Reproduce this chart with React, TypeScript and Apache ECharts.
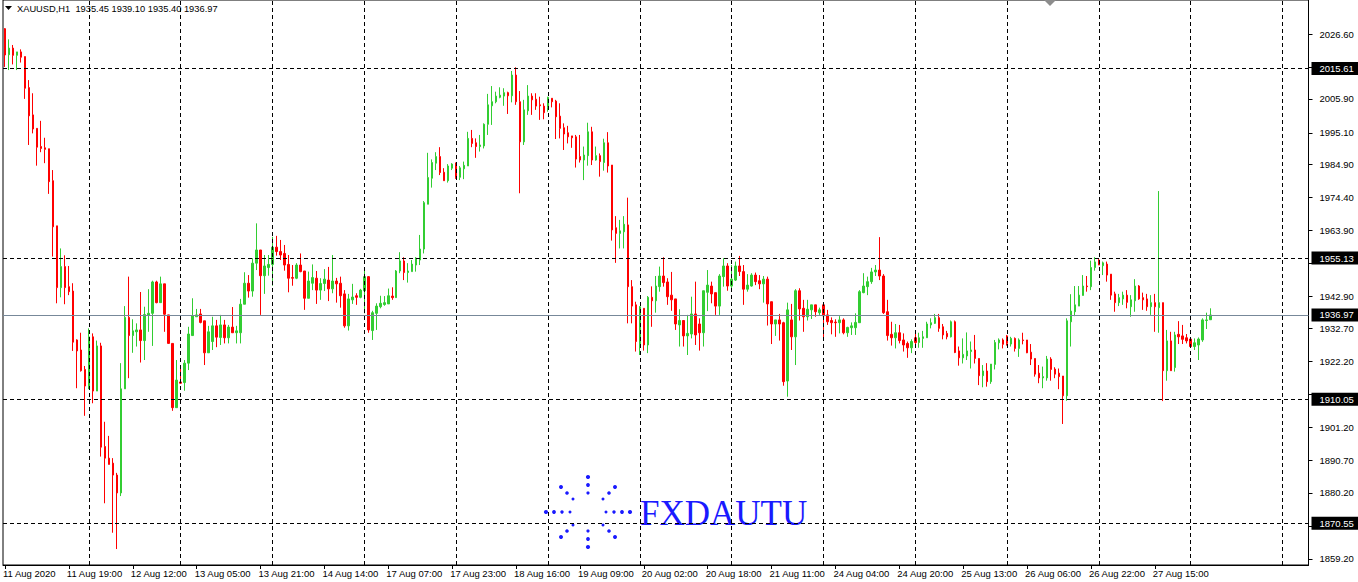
import React, { useEffect, useRef } from "react";
import * as echarts from "echarts";

// Hourly XAUUSD bars, each row: [open, close, low, high]
const aug11 = [
  [2028.3, 2019.9, 2016.1, 2028.5], [2020.0, 2022.1, 2015.1, 2024.9], [2022.1, 2019.8, 2016.9, 2023.1],
  [2019.8, 2020.9, 2015.1, 2020.9], [2020.9, 2019.2, 2017.5, 2021.7], [2019.4, 2009.3, 2005.9, 2019.4],
  [2009.5, 2000.5, 1991.2, 2011.9], [2000.8, 1996.3, 1994.9, 2007.7], [1996.5, 1990.5, 1984.6, 1996.5],
  [1990.7, 1990.1, 1988.9, 1998.9], [1990.3, 1989.8, 1985.4, 1993.5], [1990.0, 1979.5, 1975.6, 1990.0],
  [1979.8, 1965.1, 1955.6, 1983.2], [1965.4, 1945.7, 1940.7, 1965.4], [1945.7, 1952.4, 1942.6, 1958.2],
  [1952.4, 1945.7, 1940.4, 1956.0], [1946.0, 1944.4, 1943.3, 1952.6], [1944.6, 1928.3, 1925.5, 1947.1],
  [1929.0, 1925.5, 1913.6, 1929.2], [1925.8, 1919.2, 1918.9, 1931.3], [1919.6, 1914.3, 1904.8, 1920.7],
];
const aug12 = [
  [1914.1, 1930.0, 1913.3, 1932.7], [1930.0, 1912.7, 1908.8, 1931.1], [1912.7, 1927.1, 1912.7, 1928.8],
  [1927.1, 1894.8, 1891.8, 1928.1], [1895.0, 1891.3, 1876.9, 1902.9], [1891.3, 1889.3, 1889.3, 1898.4],
  [1889.7, 1885.9, 1867.5, 1891.3], [1885.9, 1880.2, 1862.3, 1886.6], [1880.2, 1913.4, 1879.2, 1921.6],
  [1913.4, 1936.2, 1913.4, 1939.8], [1936.2, 1930.4, 1916.8, 1949.2], [1930.4, 1931.9, 1924.9, 1935.6],
  [1931.6, 1932.2, 1926.9, 1934.3], [1932.2, 1928.8, 1921.8, 1944.3], [1928.8, 1937.1, 1922.6, 1939.6],
  [1937.0, 1937.5, 1931.6, 1945.2], [1937.5, 1947.5, 1927.1, 1947.9], [1947.5, 1940.9, 1940.7, 1947.9],
  [1940.9, 1946.9, 1940.9, 1949.2], [1946.9, 1937.2, 1931.6, 1946.9], [1937.0, 1927.9, 1927.9, 1937.0],
  [1927.9, 1907.4, 1906.4, 1927.9], [1907.4, 1916.2, 1907.4, 1922.6],
];
const aug13 = [
  [1915.6, 1915.2, 1915.0, 1920.7], [1915.4, 1921.6, 1912.8, 1922.6], [1921.6, 1930.9, 1919.4, 1933.2],
  [1930.4, 1936.7, 1930.4, 1942.3], [1936.4, 1937.0, 1936.4, 1938.9], [1937.3, 1934.6, 1934.3, 1938.9],
  [1935.1, 1924.9, 1921.0, 1935.1], [1924.9, 1931.6, 1924.9, 1933.5], [1928.5, 1933.5, 1925.8, 1936.4],
  [1933.5, 1929.9, 1926.7, 1935.4], [1929.8, 1933.8, 1927.4, 1937.0], [1933.8, 1929.7, 1927.9, 1935.4],
  [1929.7, 1933.1, 1927.9, 1933.8], [1933.1, 1931.3, 1931.3, 1939.5], [1931.3, 1931.9, 1927.9, 1933.5],
  [1931.3, 1940.4, 1927.9, 1942.1], [1940.4, 1947.1, 1940.4, 1950.6], [1947.1, 1944.6, 1942.5, 1949.7],
  [1944.6, 1953.5, 1942.8, 1955.1], [1953.5, 1957.7, 1951.3, 1966.2], [1957.7, 1949.5, 1937.0, 1957.7],
  [1949.5, 1952.6, 1943.7, 1956.1], [1952.1, 1953.1, 1949.5, 1956.1],
];
const aug14 = [
  [1953.1, 1958.6, 1946.3, 1961.9], [1958.6, 1957.2, 1955.9, 1962.2], [1957.2, 1956.1, 1954.5, 1960.9],
  [1956.6, 1952.9, 1951.1, 1959.3], [1953.1, 1948.7, 1944.2, 1956.1], [1948.9, 1948.7, 1946.3, 1952.9],
  [1948.7, 1952.9, 1948.4, 1953.5], [1952.9, 1950.8, 1950.6, 1956.6], [1951.0, 1942.3, 1938.6, 1951.0],
  [1942.3, 1947.8, 1942.3, 1950.8], [1947.1, 1948.9, 1944.9, 1953.1], [1948.7, 1944.9, 1940.5, 1951.0],
  [1944.9, 1947.0, 1941.8, 1948.7], [1947.0, 1948.4, 1944.6, 1951.6], [1948.1, 1945.3, 1941.4, 1952.3],
  [1945.3, 1947.8, 1943.9, 1956.1], [1947.8, 1946.9, 1940.9, 1948.8], [1947.1, 1943.1, 1939.3, 1949.2],
  [1943.7, 1933.5, 1932.9, 1944.9], [1933.5, 1942.1, 1932.0, 1943.7], [1941.8, 1942.7, 1940.5, 1946.9],
  [1943.1, 1942.6, 1940.2, 1943.9], [1942.6, 1944.9, 1942.3, 1945.3],
];
const aug17 = [
  [1944.7, 1949.2, 1937.5, 1951.3], [1949.2, 1932.2, 1931.3, 1949.4], [1932.0, 1937.7, 1929.0, 1938.3],
  [1937.5, 1939.8, 1932.2, 1940.7], [1939.6, 1940.7, 1939.1, 1943.1], [1940.3, 1940.9, 1939.9, 1943.0],
  [1940.5, 1943.1, 1940.5, 1945.4], [1943.0, 1942.5, 1941.8, 1945.8], [1942.5, 1951.0, 1942.5, 1951.3],
  [1951.0, 1954.2, 1950.3, 1957.0], [1954.2, 1950.5, 1948.1, 1955.4], [1950.5, 1951.0, 1947.3, 1953.5],
  [1950.8, 1953.2, 1950.8, 1954.5], [1952.9, 1955.1, 1950.8, 1955.4], [1954.5, 1958.0, 1952.9, 1962.5],
  [1958.0, 1972.8, 1956.6, 1973.3], [1972.3, 1980.8, 1972.3, 1988.7], [1980.6, 1985.6, 1977.6, 1986.6],
  [1985.4, 1987.5, 1983.2, 1988.9], [1987.5, 1982.4, 1981.6, 1990.5], [1982.5, 1979.8, 1979.8, 1983.8],
  [1979.8, 1984.5, 1979.2, 1985.1], [1983.8, 1985.1, 1983.2, 1985.4],
];
const aug18 = [
  [1985.1, 1980.9, 1980.4, 1985.6], [1980.9, 1983.9, 1980.0, 1984.5], [1983.6, 1984.7, 1980.3, 1985.9],
  [1984.5, 1993.3, 1984.5, 1995.4], [1993.3, 1991.7, 1990.5, 1996.0], [1991.9, 1990.7, 1987.1, 1993.3],
  [1990.7, 1991.2, 1989.1, 1994.4], [1990.9, 1997.8, 1990.1, 1998.1], [1997.8, 2004.0, 1994.4, 2007.5],
  [2003.7, 2005.0, 1997.6, 2010.0], [2005.0, 2006.8, 2004.5, 2008.2], [2006.4, 2007.1, 2006.1, 2009.6],
  [2006.8, 2007.9, 2003.7, 2009.3], [2007.9, 2006.9, 2001.1, 2008.2], [2006.9, 2013.5, 2004.8, 2014.8],
  [2013.5, 2005.0, 2004.0, 2016.0], [2005.0, 1992.2, 1975.8, 2008.4], [1992.2, 2002.4, 1991.2, 2005.6],
  [2002.1, 2006.8, 2000.8, 2010.3], [2006.8, 2005.6, 2000.8, 2007.7], [2005.8, 2003.6, 2002.4, 2007.7],
  [2004.0, 2003.7, 1999.2, 2006.6], [2003.6, 2001.5, 1999.4, 2004.5],
];
const aug19 = [
  [2003.2, 2006.4, 2001.8, 2006.6], [2006.1, 2005.0, 2003.2, 2006.1], [2005.2, 2000.2, 1993.1, 2005.6],
  [2000.4, 1996.5, 1993.3, 2004.5], [1996.7, 1994.7, 1989.6, 1998.1], [1995.1, 1993.8, 1991.7, 1997.3],
  [1994.1, 1993.5, 1990.3, 1994.1], [1993.8, 1986.7, 1984.0, 1994.4], [1987.5, 1986.4, 1985.6, 1994.4],
  [1986.4, 1988.0, 1980.0, 1990.7], [1987.8, 1995.4, 1984.6, 1998.3], [1995.4, 1986.4, 1984.8, 1997.0],
  [1986.4, 1987.8, 1986.2, 1990.7], [1987.8, 1985.9, 1981.1, 1988.5], [1985.6, 1991.9, 1983.0, 1993.2],
  [1991.9, 1984.5, 1982.4, 1995.3], [1984.8, 1964.1, 1960.7, 1984.8], [1964.8, 1963.0, 1953.6, 1968.5],
  [1963.0, 1963.8, 1958.2, 1967.3], [1963.5, 1965.9, 1958.2, 1968.5], [1965.7, 1946.0, 1934.3, 1974.4],
  [1946.0, 1939.8, 1934.3, 1948.1], [1940.2, 1928.5, 1925.3, 1941.2],
];
const aug20 = [
  [1927.7, 1939.6, 1924.2, 1939.8], [1939.1, 1927.4, 1925.6, 1939.1], [1927.4, 1942.6, 1924.8, 1943.0],
  [1942.6, 1941.5, 1933.2, 1946.1], [1941.5, 1946.2, 1937.7, 1949.4], [1946.0, 1949.4, 1944.4, 1952.4],
  [1949.4, 1947.3, 1946.0, 1955.4], [1947.5, 1942.8, 1940.2, 1948.7], [1943.3, 1941.8, 1938.3, 1950.7],
  [1942.1, 1934.1, 1932.2, 1942.1], [1933.8, 1935.2, 1926.9, 1938.8], [1935.2, 1930.3, 1926.9, 1935.2],
  [1930.3, 1931.1, 1924.2, 1937.0], [1930.9, 1937.3, 1929.5, 1942.8], [1937.3, 1930.6, 1927.4, 1947.6],
  [1934.1, 1931.3, 1925.6, 1935.9], [1931.3, 1944.7, 1926.9, 1944.7], [1944.2, 1946.5, 1938.2, 1951.3],
  [1946.2, 1943.7, 1940.7, 1947.6], [1944.1, 1939.8, 1937.0, 1944.1], [1939.8, 1949.4, 1937.0, 1950.0],
  [1949.2, 1952.6, 1946.0, 1955.1], [1952.6, 1946.2, 1944.7, 1953.5],
];
const aug21 = [
  [1946.2, 1948.4, 1944.9, 1952.9], [1948.1, 1952.6, 1947.8, 1954.0], [1952.6, 1950.8, 1949.4, 1955.8],
  [1950.8, 1945.2, 1940.2, 1952.9], [1945.2, 1946.5, 1944.4, 1950.0], [1946.2, 1949.7, 1946.0, 1950.3],
  [1949.7, 1947.6, 1946.5, 1950.5], [1947.9, 1946.9, 1945.2, 1949.7], [1946.9, 1948.4, 1940.9, 1949.4],
  [1948.4, 1940.5, 1933.6, 1949.2], [1941.2, 1934.1, 1927.7, 1941.2], [1934.1, 1935.4, 1930.3, 1935.4],
  [1935.4, 1934.1, 1928.8, 1937.3], [1934.5, 1915.7, 1914.4, 1934.8], [1915.9, 1938.6, 1910.9, 1940.9],
  [1935.4, 1930.0, 1925.8, 1940.5], [1930.0, 1944.7, 1921.0, 1945.2], [1944.7, 1938.9, 1935.2, 1945.5],
  [1939.1, 1936.4, 1931.6, 1941.8], [1936.4, 1938.8, 1935.2, 1941.8], [1938.6, 1940.2, 1935.7, 1940.2],
  [1940.2, 1938.0, 1936.4, 1940.2], [1937.7, 1938.6, 1937.0, 1939.3],
];
const aug24 = [
  [1940.2, 1936.7, 1929.2, 1940.2], [1937.0, 1934.8, 1933.8, 1938.6], [1935.2, 1934.5, 1930.8, 1936.2],
  [1934.7, 1934.5, 1930.0, 1935.6], [1934.5, 1935.4, 1931.1, 1936.6], [1935.4, 1931.3, 1930.8, 1935.9],
  [1931.3, 1933.0, 1930.0, 1933.2], [1932.9, 1933.5, 1930.6, 1934.6], [1932.9, 1934.6, 1930.6, 1937.5],
  [1934.5, 1944.4, 1934.5, 1944.9], [1944.1, 1946.2, 1943.9, 1950.3], [1946.0, 1947.6, 1943.3, 1949.2],
  [1947.6, 1950.7, 1946.9, 1952.0], [1950.7, 1951.3, 1949.4, 1952.9], [1951.3, 1949.4, 1948.1, 1961.8],
  [1949.4, 1937.7, 1937.3, 1950.0], [1938.0, 1930.4, 1928.8, 1941.8], [1930.8, 1929.7, 1927.2, 1934.8],
  [1929.7, 1931.3, 1926.3, 1934.1], [1931.3, 1928.8, 1927.9, 1933.8], [1929.0, 1927.4, 1925.3, 1931.1],
  [1927.9, 1926.5, 1923.3, 1928.5], [1926.5, 1928.5, 1924.8, 1929.2],
];
const aug25 = [
  [1929.7, 1928.2, 1927.4, 1930.9], [1928.2, 1929.7, 1926.5, 1931.3], [1929.5, 1930.0, 1926.5, 1931.9],
  [1929.7, 1934.1, 1929.7, 1934.8], [1933.8, 1934.5, 1932.7, 1935.9], [1934.3, 1936.1, 1934.1, 1937.3],
  [1936.1, 1932.7, 1931.6, 1937.3], [1933.2, 1930.6, 1929.2, 1934.1], [1931.1, 1930.0, 1929.2, 1931.9],
  [1930.0, 1934.8, 1929.8, 1935.2], [1934.8, 1925.0, 1924.8, 1935.2], [1925.5, 1923.3, 1920.8, 1926.9],
  [1923.3, 1924.4, 1921.5, 1929.5], [1923.9, 1925.5, 1922.6, 1931.4], [1925.3, 1925.8, 1919.9, 1928.5],
  [1925.8, 1923.1, 1921.5, 1930.6], [1923.1, 1917.6, 1914.6, 1923.1], [1917.6, 1919.1, 1913.9, 1921.0],
  [1919.1, 1915.7, 1914.1, 1921.6], [1915.7, 1921.3, 1915.0, 1921.3], [1921.2, 1928.2, 1919.6, 1929.0],
  [1928.1, 1929.0, 1926.0, 1929.5], [1929.0, 1927.6, 1926.3, 1929.5],
];
const aug26 = [
  [1930.3, 1927.9, 1927.2, 1930.6], [1927.7, 1929.5, 1926.9, 1930.0], [1929.5, 1926.3, 1925.3, 1929.8],
  [1926.3, 1929.0, 1923.6, 1929.5], [1929.0, 1928.8, 1927.6, 1931.3], [1929.0, 1924.9, 1924.8, 1929.0],
  [1925.1, 1922.9, 1921.0, 1927.7], [1923.1, 1918.1, 1917.3, 1923.1], [1918.4, 1916.9, 1915.2, 1921.0],
  [1916.9, 1917.3, 1913.6, 1920.5], [1916.9, 1922.9, 1916.0, 1923.9], [1922.9, 1919.6, 1916.0, 1923.5],
  [1919.7, 1918.1, 1916.8, 1920.3], [1918.4, 1917.3, 1913.3, 1919.9], [1917.5, 1911.2, 1902.2, 1917.5],
  [1911.2, 1935.1, 1909.6, 1935.9], [1934.8, 1938.2, 1926.9, 1943.6], [1938.0, 1940.2, 1936.6, 1946.2],
  [1939.8, 1943.3, 1939.8, 1946.2], [1943.2, 1946.2, 1943.2, 1949.7], [1946.2, 1946.0, 1944.4, 1949.4],
  [1946.0, 1952.1, 1944.9, 1954.3], [1952.1, 1953.9, 1951.1, 1955.4],
];
const aug27 = [
  [1954.5, 1952.9, 1952.9, 1954.8], [1952.7, 1953.6, 1949.7, 1954.0], [1953.2, 1949.7, 1947.6, 1954.0],
  [1950.0, 1943.3, 1941.8, 1950.0], [1943.7, 1940.9, 1938.0, 1944.4], [1940.9, 1942.5, 1939.8, 1943.7],
  [1942.1, 1943.3, 1940.2, 1944.4], [1943.3, 1941.0, 1939.1, 1944.9], [1939.6, 1941.8, 1936.4, 1943.3],
  [1941.5, 1946.2, 1938.0, 1948.4], [1946.2, 1942.1, 1941.8, 1946.5], [1942.5, 1941.8, 1938.6, 1944.1],
  [1942.1, 1939.6, 1938.3, 1943.7], [1939.6, 1940.9, 1937.0, 1943.3], [1940.9, 1939.6, 1931.6, 1943.7],
  [1939.3, 1940.9, 1931.3, 1976.5], [1940.9, 1919.2, 1909.5, 1940.9], [1919.2, 1928.7, 1916.0, 1932.2],
  [1928.7, 1919.2, 1919.2, 1931.6], [1920.2, 1930.6, 1918.9, 1931.6], [1930.8, 1930.0, 1927.7, 1935.0],
  [1930.3, 1929.2, 1927.7, 1933.8], [1929.7, 1928.7, 1927.9, 1930.9],
];
const aug28 = [
  [1929.3, 1926.9, 1926.9, 1929.3], [1926.9, 1928.1, 1925.8, 1929.5], [1927.4, 1929.3, 1922.6, 1929.8],
  [1929.0, 1935.4, 1928.4, 1935.9], [1935.2, 1935.4, 1932.5, 1937.7], [1935.45, 1936.97, 1935.4, 1939.1],
];

// Trading days shown (first session starts at 03:00, the others at 01:00); the last one is the empty shift area
const tradingDays = ["11 Aug", "12 Aug", "13 Aug", "14 Aug", "17 Aug", "18 Aug", "19 Aug", "20 Aug", "21 Aug",
  "24 Aug", "25 Aug", "26 Aug", "27 Aug", "28 Aug", "31 Aug"];
const timeLabels = ["11 Aug 2020", "11 Aug 19:00", "12 Aug 12:00", "13 Aug 05:00", "13 Aug 21:00", "14 Aug 14:00",
  "17 Aug 07:00", "17 Aug 23:00", "18 Aug 16:00", "19 Aug 09:00", "20 Aug 02:00", "20 Aug 18:00", "21 Aug 11:00",
  "24 Aug 04:00", "24 Aug 20:00", "25 Aug 13:00", "26 Aug 06:00", "26 Aug 22:00", "27 Aug 15:00"];
const priceTicks = [2026.6, 2016.1, 2005.9, 1995.1, 1984.9, 1974.4, 1963.9, 1953.4, 1942.9, 1932.7, 1922.2, 1911.7,
  1901.2, 1890.7, 1880.2, 1869.7, 1859.2];
const priceLabels = [2026.6, 2005.9, 1995.1, 1984.9, 1974.4, 1963.9, 1942.9, 1932.7, 1922.2,
  1901.2, 1890.7, 1880.2, 1859.2];
const levels = [2015.61, 1955.13, 1910.05, 1870.55];
const bid = 1936.97;
const header = "XAUUSD,H1  1935.45 1939.10 1935.40 1936.97";

const SLOTS = 327;
const FONT = "Liberation Sans";

export default function App() {
  const ref = useRef<HTMLDivElement>(null);
  useEffect(() => {
    if (!ref.current) return;
    const chart = echarts.init(ref.current, null, { renderer: "svg" });

    const categories: string[] = [];
    tradingDays.forEach((d, k) => {
      for (let h = k === 0 ? 3 : 1; h <= 23; h++) {
        if (categories.length < SLOTS) categories.push(`${d} ${String(h).padStart(2, "0")}:00`);
      }
    });
    const bars = [...aug11, ...aug12, ...aug13, ...aug14, ...aug17, ...aug18, ...aug19, ...aug20, ...aug21,
      ...aug24, ...aug25, ...aug26, ...aug27, ...aug28];
    const separators = categories.filter((c) => c.endsWith(" 01:00"));
    const lastLabel = (timeLabels.length - 1) * 16;
    const showTick = (i: number) => i % 16 === 0 && i <= lastLabel;

    const boxLabel = (v: number) => ({
      show: true,
      position: "end",
      distance: 3,
      formatter: v.toFixed(2),
      backgroundColor: "#000",
      color: "#fff",
      fontFamily: FONT,
      fontSize: 9.5,
      padding: [2, 5, 1, 8],
    });

    // starburst logo dots (x, y, r)
    const dots = [
      [588, 477, 2.1], [588, 485, 1.9], [588, 493, 1.6],
      [588, 531, 1.6], [588, 539, 1.9], [588, 547, 2.1],
      [546, 512, 2.1], [554, 512, 1.9], [562, 512, 1.7], [570, 512, 1.5],
      [606, 512, 1.5], [614, 512, 1.7], [622, 512, 1.9], [630, 512, 2.1],
      [561, 487, 2.0], [567, 493, 1.8], [573, 499, 1.5],
      [615, 487, 2.0], [609, 493, 1.8], [603, 499, 1.5],
      [561, 537, 2.0], [567, 531, 1.8], [573, 525, 1.5],
      [615, 537, 2.0], [609, 531, 1.8], [603, 525, 1.5],
    ];

    chart.setOption({
      animation: false,
      backgroundColor: "#fff",
      grid: { left: 0.5, top: 0, width: 1308, height: 565, show: true, borderColor: "#000", borderWidth: 1, backgroundColor: "#fff" },
      xAxis: {
        type: "category",
        data: categories,
        boundaryGap: true,
        axisLine: { show: true, lineStyle: { color: "#000", width: 1 } },
        axisTick: { show: true, interval: (i: number) => showTick(i), alignWithLabel: true, length: 4, lineStyle: { color: "#000" } },
        axisLabel: {
          interval: (i: number) => showTick(i),
          formatter: (_v: string, i: number) => timeLabels[i / 16] ?? "",
          align: "left",
          color: "#000",
          fontFamily: FONT,
          fontSize: 9.5,
          margin: 3,
          padding: [0, 0, 0, -2],
          hideOverlap: false,
        },
        splitLine: { show: false },
      },
      yAxis: {
        type: "value",
        position: "right",
        min: 1857.21,
        max: 2037.45,
        axisLine: { show: true, lineStyle: { color: "#000", width: 1 } },
        axisTick: { show: true, customValues: priceTicks, length: 4, lineStyle: { color: "#000" } },
        axisLabel: {
          customValues: priceLabels,
          formatter: (v: number) => v.toFixed(2),
          color: "#000",
          fontFamily: FONT,
          fontSize: 9.5,
          margin: 11,
        },
        splitLine: { show: false },
      },
      series: [
        {
          type: "candlestick",
          data: bars,
          barWidth: 2,
          itemStyle: {
            color: "#32cd32",
            color0: "#ff0000",
            borderColor: "#32cd32",
            borderColor0: "#ff0000",
            borderWidth: 1,
          },
          markLine: {
            silent: true,
            symbol: ["none", "none"],
            animation: false,
            data: [
              ...separators.map((c) => ({ xAxis: c, lineStyle: { color: "#000", type: [4, 3], width: 1 }, label: { show: false } })),
              ...levels.map((v) => ({ yAxis: v, lineStyle: { color: "#000", type: [4, 3], width: 1 }, label: boxLabel(v) })),
              { yAxis: bid, lineStyle: { color: "#778899", type: "solid", width: 1 }, label: boxLabel(bid) },
            ],
          },
        },
      ],
      graphic: [
        { type: "polygon", shape: { points: [[5, 6], [12, 6], [8.5, 10]] }, style: { fill: "#000" } },
        { type: "text", x: 17, y: 9, style: { text: header, fill: "#000", fontFamily: FONT, fontSize: 9.3, verticalAlign: "middle" } },
        { type: "polygon", shape: { points: [[1044, 0], [1056, 0], [1050, 6]] }, style: { fill: "#8c8c8c" } },
        ...dots.map(([x, y, r]) => ({ type: "circle", shape: { cx: x, cy: y, r }, style: { fill: "#1a1aff" } })),
        {
          type: "text",
          x: 640,
          y: 513,
          style: { text: "FXDAUTU", fill: "#1a1aff", fontFamily: "Liberation Serif", fontSize: 35, verticalAlign: "middle" },
        },
      ],
    });
    return () => chart.dispose();
  }, []);
  return <div ref={ref} style={{ position: "fixed", left: 0, top: 0, width: 1358, height: 582, background: "#fff" }} />;
}
